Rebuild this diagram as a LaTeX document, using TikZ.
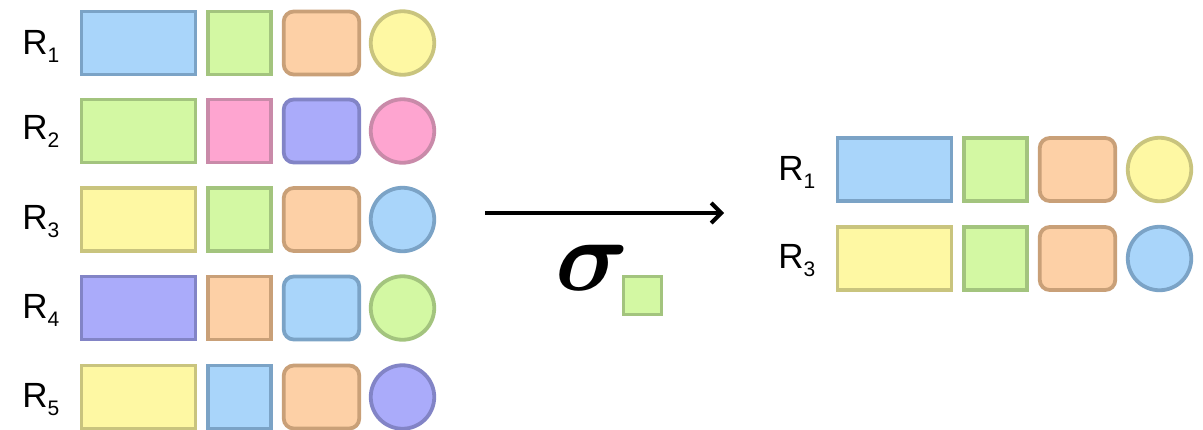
\documentclass[tikz,border=0pt]{standalone}
\usepackage{fontspec}
\usepackage{bm}
\setmainfont{Liberation Sans}
\usetikzlibrary{arrows.meta}

\definecolor{blueF}{HTML}{A9D5FA}
\definecolor{blueD}{HTML}{7BA3C6}
\definecolor{greenF}{HTML}{D3F8A3}
\definecolor{greenD}{HTML}{A3C47E}
\definecolor{orangeF}{HTML}{FDD0A6}
\definecolor{orangeD}{HTML}{C9A078}
\definecolor{yellowF}{HTML}{FEF8A3}
\definecolor{yellowD}{HTML}{C9C47E}
\definecolor{pinkF}{HTML}{FEA5D0}
\definecolor{pinkD}{HTML}{C98AA9}
\definecolor{purpleF}{HTML}{AAABFA}
\definecolor{purpleD}{HTML}{8284C6}

\newcommand{\Rsub}[1]{R\raisebox{-4.3pt}{\fontsize{10.5}{10.5}\selectfont #1}}

\tikzset{
  cell/.style={draw=#1D,fill=#1F,line width=1.9pt,inner sep=0pt},
  wide/.style={cell=#1,rectangle,minimum width=57pt,minimum height=31.5pt},
  sq/.style={cell=#1,rectangle,minimum width=31.75pt,minimum height=31.5pt},
  rnd/.style={cell=#1,rectangle,rounded corners=5pt,minimum width=37.75pt,minimum height=31.5pt},
  dot/.style={cell=#1,circle,minimum size=31.75pt},
  rlab/.style={anchor=base west,font=\fontsize{17.5}{17.5}\selectfont,inner sep=0pt}
}

\begin{document}
\begin{tikzpicture}[x=0.5pt,y=-0.5pt]
  \useasboundingbox (0,0) rectangle (1203,429);
  % relation before selection
  \node[rlab] (l1) at (22,54) {\Rsub{1}};
  \node[wide=blue]    (a1) at (138.5,43) {};
  \node[sq=green]     (b1) at (239.5,43) {};
  \node[rnd=orange]   (c1) at (321.5,43) {};
  \node[dot=yellow]   (d1) at (402.5,43) {};

  \node[rlab] (l2) at (22,139) {\Rsub{2}};
  \node[wide=green]   (a2) at (138.5,131) {};
  \node[sq=pink]      (b2) at (239.5,131) {};
  \node[rnd=purple]   (c2) at (321.5,131) {};
  \node[dot=pink]     (d2) at (402.5,131) {};

  \node[rlab] (l3) at (22,229) {\Rsub{3}};
  \node[wide=yellow]  (a3) at (138.5,219.5) {};
  \node[sq=green]     (b3) at (239.5,219.5) {};
  \node[rnd=orange]   (c3) at (321.5,219.5) {};
  \node[dot=blue]     (d3) at (402.5,219.5) {};

  \node[rlab] (l4) at (22,318) {\Rsub{4}};
  \node[wide=purple]  (a4) at (138.5,308) {};
  \node[sq=orange]    (b4) at (239.5,308) {};
  \node[rnd=blue]     (c4) at (321.5,308) {};
  \node[dot=green]    (d4) at (402.5,308) {};

  \node[rlab] (l5) at (22,407) {\Rsub{5}};
  \node[wide=yellow]  (a5) at (138.5,397) {};
  \node[sq=blue]      (b5) at (239.5,397) {};
  \node[rnd=orange]   (c5) at (321.5,397) {};
  \node[dot=purple]   (d5) at (402.5,397) {};

  % selection operator
  \coordinate (from) at (485,213);
  \coordinate (to) at (724,213);
  \draw[line width=2pt,-{Straight Barb[length=5pt,width=10pt,line width=2pt]}] (from) -- (to);
  \node[font=\fontsize{24.88}{30}\selectfont,scale=2.05,inner sep=0pt,anchor=base] (sigma) at (592,290) {$\bm{\sigma}$};
  \node[cell=green,rectangle,minimum size=19pt] (sel) at (642.5,295.5) {};

  % result
  \node[rlab] (m1) at (778,180) {\Rsub{1}};
  \node[wide=blue]    (e1) at (894.5,169.5) {};
  \node[sq=green]     (f1) at (995.5,169.5) {};
  \node[rnd=orange]   (g1) at (1077.5,169.5) {};
  \node[dot=yellow]   (h1) at (1159.5,169.5) {};

  \node[rlab] (m3) at (778,268) {\Rsub{3}};
  \node[wide=yellow]  (e3) at (894.5,258.5) {};
  \node[sq=green]     (f3) at (995.5,258.5) {};
  \node[rnd=orange]   (g3) at (1077.5,258.5) {};
  \node[dot=blue]     (h3) at (1159.5,258.5) {};
\end{tikzpicture}
\end{document}
